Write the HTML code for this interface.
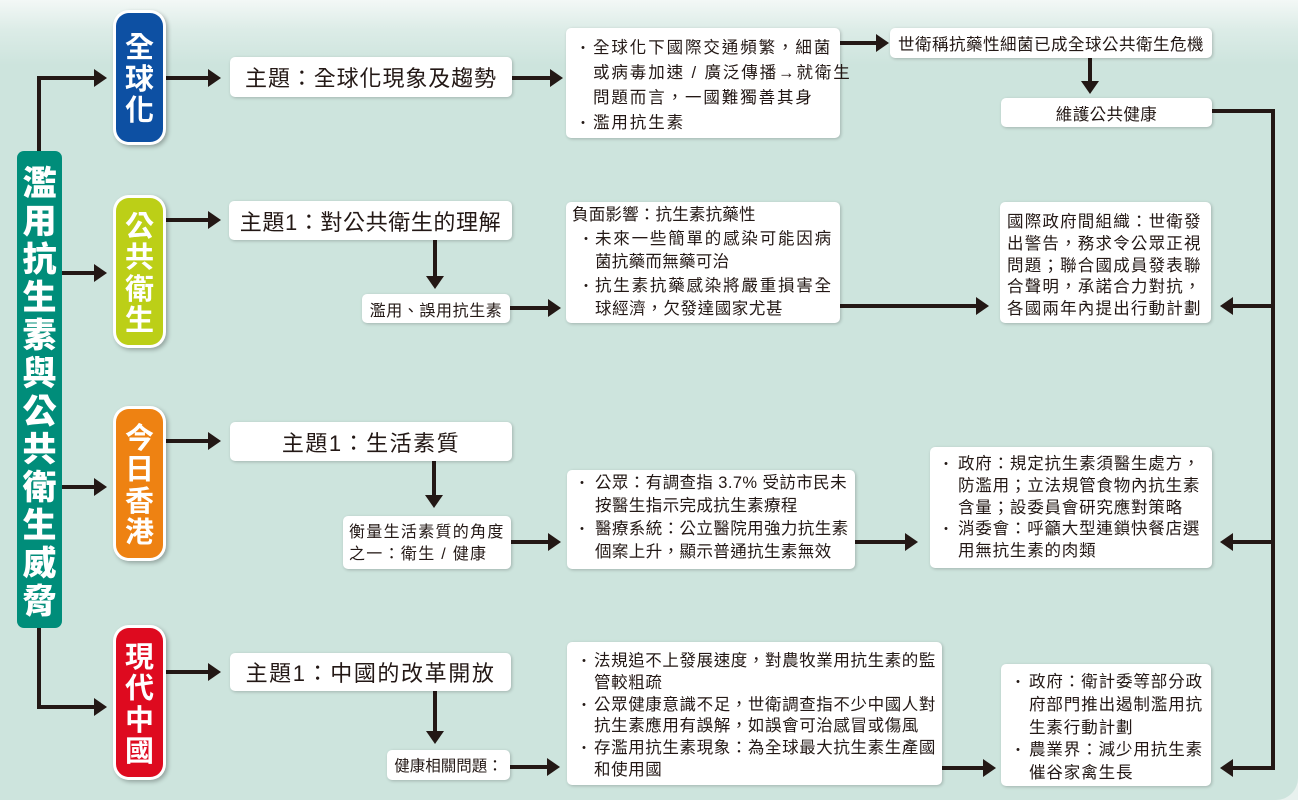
<!DOCTYPE html>
<html>
<head>
<meta charset="utf-8">
<style>
  html,body{margin:0;padding:0;}
  body{width:1298px;height:800px;overflow:hidden;background:#e8f1ee;position:relative;
    font-family:"Liberation Sans","Noto Sans CJK TC",sans-serif;color:#231815;}
  #panel{position:absolute;left:0;top:0;width:1298px;height:800px;
    background:linear-gradient(to bottom,#f3f8f6 0px,#dcece7 30px,#cde4dd 65px,#cde4dd 100%);
    border-bottom-right-radius:22px;}
  svg{position:absolute;left:0;top:0;}
  .box{position:absolute;background:#fff;border-radius:5px;box-shadow:1px 1px 3px rgba(0,0,0,.22);
    font-size:16.5px;white-space:nowrap;box-sizing:border-box;}
  .ln{position:relative;height:auto;}
  .b{position:absolute;font-size:14px;}
  .center{display:flex;align-items:center;justify-content:center;}
  .theme{font-size:22px;}
  .cat{position:absolute;background:#fff;border-radius:16px;box-shadow:2px 2px 4px rgba(0,0,0,.28);}
  .cat .in{position:absolute;left:3px;top:3px;right:3px;bottom:3px;border-radius:13px;
    display:flex;flex-direction:column;align-items:center;justify-content:center;
    color:#fff;font-weight:bold;font-size:29px;line-height:31.5px;
    font-family:"Noto Sans CJK TC","Noto Sans CJK SC",sans-serif;}
  #banner{position:absolute;left:17px;top:151px;width:45px;height:477px;background:#008d7a;border-radius:7px;
    display:flex;flex-direction:column;align-items:center;justify-content:center;
    color:#fff;font-weight:900;font-size:34px;line-height:38px;
    font-family:"Noto Sans CJK TC","Noto Sans CJK SC",sans-serif;}
</style>
</head>
<body>
<div id="panel"></div>

<svg width="1298" height="800" viewBox="0 0 1298 800">
  <g fill="none" stroke="#231815" stroke-width="4" stroke-linejoin="miter">
    <path d="M39,151 V78 H96"/>
    <path d="M62,273 H96"/>
    <path d="M62,487 H96"/>
    <path d="M39,628 V707 H96"/>
    <path d="M166,78 H210"/>
    <path d="M166,220 H210"/>
    <path d="M166,441 H210"/>
    <path d="M166,672 H210"/>
    <path d="M512,78 H552"/>
    <path d="M840,43 H878"/>
    <path d="M1090,58 V83"/>
    <path d="M1212,111 H1273 V768 H1232"/>
    <path d="M1273,306 H1232"/>
    <path d="M1273,542 H1232"/>
    <path d="M435,240 V278"/>
    <path d="M510,308 H550"/>
    <path d="M840,306 H978"/>
    <path d="M434,461 V497"/>
    <path d="M511,542 H550"/>
    <path d="M855,542 H907"/>
    <path d="M435,691 V733"/>
    <path d="M510,767 H549"/>
    <path d="M942,768 H985"/>
  </g>
  <g fill="#231815">
    <polygon points="94,69 107,78 94,87"/>
    <polygon points="94,264 107,273 94,282"/>
    <polygon points="94,478 107,487 94,496"/>
    <polygon points="94,698 107,707 94,716"/>
    <polygon points="208,69 221,78 208,87"/>
    <polygon points="208,211 221,220 208,229"/>
    <polygon points="208,432 221,441 208,450"/>
    <polygon points="208,663 221,672 208,681"/>
    <polygon points="550,69 563,78 550,87"/>
    <polygon points="876,34 889,43 876,52"/>
    <polygon points="548,299 561,308 548,317"/>
    <polygon points="976,297 989,306 976,315"/>
    <polygon points="548,533 561,542 548,551"/>
    <polygon points="905,533 918,542 905,551"/>
    <polygon points="547,758 560,767 547,776"/>
    <polygon points="983,759 996,768 983,777"/>
    <polygon points="1233,297 1220,306 1233,315"/>
    <polygon points="1233,533 1220,542 1233,551"/>
    <polygon points="1233,759 1220,768 1233,777"/>
    <polygon points="1081,81 1090,94 1099,81"/>
    <polygon points="426,276 435,289 444,276"/>
    <polygon points="425,495 434,508 443,495"/>
    <polygon points="426,731 435,744 444,731"/>
  </g>
</svg>

<div id="banner"><div>濫</div><div>用</div><div>抗</div><div>生</div><div>素</div><div>與</div><div>公</div><div>共</div><div>衛</div><div>生</div><div>威</div><div>脅</div></div>

<div class="cat" style="left:113px;top:10px;width:53px;height:135px;"><div class="in" style="background:#0d50a3;"><div>全</div><div>球</div><div>化</div></div></div>
<div class="cat" style="left:113px;top:195px;width:53px;height:153px;"><div class="in" style="background:#bccf17;"><div>公</div><div>共</div><div>衛</div><div>生</div></div></div>
<div class="cat" style="left:113px;top:406px;width:53px;height:155px;"><div class="in" style="background:#ee8212;"><div>今</div><div>日</div><div>香</div><div>港</div></div></div>
<div class="cat" style="left:113px;top:625px;width:53px;height:155px;"><div class="in" style="background:#de0a1f;"><div>現</div><div>代</div><div>中</div><div>國</div></div></div>

<div class="box center theme" style="left:230px;top:57px;width:282px;height:40px;letter-spacing:0.9px;">主題：全球化現象及趨勢</div>

<div class="box" style="left:566px;top:28px;width:274px;height:110px;padding-top:8px;line-height:25px;letter-spacing:1.9px;">
  <div class="ln" style="padding-left:27px;"><span class="b" style="left:10px;">・</span>全球化下國際交通頻繁，細菌</div>
  <div class="ln" style="padding-left:27px;">或病毒加速 / 廣泛傳播→就衛生</div>
  <div class="ln" style="padding-left:27px;">問題而言，一國難獨善其身</div>
  <div class="ln" style="padding-left:27px;"><span class="b" style="left:10px;">・</span>濫用抗生素</div>
</div>

<div class="box center" style="left:890px;top:28px;width:322px;height:30px;letter-spacing:0.5px;">世衛稱抗藥性細菌已成全球公共衛生危機</div>
<div class="box center" style="left:1001px;top:98px;width:211px;height:29px;letter-spacing:0.4px;">維護公共健康</div>

<div class="box center theme" style="left:229px;top:201px;width:283px;height:39px;letter-spacing:0.6px;">主題1：對公共衛生的理解</div>
<div class="box center" style="left:362px;top:294px;width:148px;height:29px;font-size:16px;letter-spacing:0.6px;">濫用、誤用抗生素</div>

<div class="box" style="left:566px;top:202px;width:274px;height:121px;padding-top:2px;line-height:23.5px;">
  <div class="ln" style="padding-left:6px;letter-spacing:0.2px;">負面影響：抗生素抗藥性</div>
  <div class="ln" style="padding-left:29px;letter-spacing:1.8px;"><span class="b" style="left:13px;">・</span>未來一些簡單的感染可能因病</div>
  <div class="ln" style="padding-left:29px;letter-spacing:0.3px;">菌抗藥而無藥可治</div>
  <div class="ln" style="padding-left:29px;letter-spacing:1.8px;"><span class="b" style="left:13px;">・</span>抗生素抗藥感染將嚴重損害全</div>
  <div class="ln" style="padding-left:29px;letter-spacing:0.6px;">球經濟，欠發達國家尤甚</div>
</div>

<div class="box" style="left:1000px;top:202px;width:211px;height:121px;padding-top:10px;padding-left:7px;line-height:21.75px;letter-spacing:1.2px;">
  <div class="ln">國際政府間組織：世衛發</div>
  <div class="ln">出警告，務求令公眾正視</div>
  <div class="ln">問題；聯合國成員發表聯</div>
  <div class="ln">合聲明，承諾合力對抗，</div>
  <div class="ln">各國兩年內提出行動計劃</div>
</div>

<div class="box center theme" style="left:230px;top:422px;width:282px;height:39px;letter-spacing:1.5px;">主題1：生活素質</div>

<div class="box" style="left:343px;top:516px;width:168px;height:53px;padding-top:6px;padding-left:6px;line-height:22px;font-size:16px;letter-spacing:1.3px;">
  <div class="ln">衡量生活素質的角度</div>
  <div class="ln">之一：衛生 / 健康</div>
</div>

<div class="box" style="left:567px;top:470px;width:288px;height:99px;padding-top:2px;line-height:23px;letter-spacing:0.4px;">
  <div class="ln" style="padding-left:28px;"><span class="b" style="left:8px;">・</span>公眾：有調查指 3.7% 受訪市民未</div>
  <div class="ln" style="padding-left:28px;">按醫生指示完成抗生素療程</div>
  <div class="ln" style="padding-left:28px;"><span class="b" style="left:8px;">・</span>醫療系統：公立醫院用強力抗生素</div>
  <div class="ln" style="padding-left:28px;">個案上升，顯示普通抗生素無效</div>
</div>

<div class="box" style="left:930px;top:447px;width:282px;height:121px;padding-top:7px;line-height:21.75px;letter-spacing:0.8px;">
  <div class="ln" style="padding-left:28px;"><span class="b" style="left:9px;">・</span>政府：規定抗生素須醫生處方，</div>
  <div class="ln" style="padding-left:28px;">防濫用；立法規管食物內抗生素</div>
  <div class="ln" style="padding-left:28px;">含量；設委員會研究應對策略</div>
  <div class="ln" style="padding-left:28px;"><span class="b" style="left:9px;">・</span>消委會：呼籲大型連鎖快餐店選</div>
  <div class="ln" style="padding-left:28px;">用無抗生素的肉類</div>
</div>

<div class="box center theme" style="left:230px;top:653px;width:281px;height:38px;letter-spacing:1.6px;">主題1：中國的改革開放</div>
<div class="box center" style="left:387px;top:750px;width:123px;height:30px;font-size:15.5px;">健康相關問題：</div>

<div class="box" style="left:567px;top:642px;width:375px;height:143px;padding-top:9px;line-height:21.8px;letter-spacing:0.6px;">
  <div class="ln" style="padding-left:27px;"><span class="b" style="left:10px;">・</span>法規追不上發展速度，對農牧業用抗生素的監</div>
  <div class="ln" style="padding-left:27px;">管較粗疏</div>
  <div class="ln" style="padding-left:27px;"><span class="b" style="left:10px;">・</span>公眾健康意識不足，世衛調查指不少中國人對</div>
  <div class="ln" style="padding-left:27px;">抗生素應用有誤解，如誤會可治感冒或傷風</div>
  <div class="ln" style="padding-left:27px;"><span class="b" style="left:10px;">・</span>存濫用抗生素現象：為全球最大抗生素生產國</div>
  <div class="ln" style="padding-left:27px;">和使用國</div>
</div>

<div class="box" style="left:1001px;top:664px;width:210px;height:122px;padding-top:7px;line-height:22.75px;letter-spacing:0.9px;">
  <div class="ln" style="padding-left:28px;"><span class="b" style="left:10px;">・</span>政府：衛計委等部分政</div>
  <div class="ln" style="padding-left:28px;">府部門推出遏制濫用抗</div>
  <div class="ln" style="padding-left:28px;">生素行動計劃</div>
  <div class="ln" style="padding-left:28px;"><span class="b" style="left:10px;">・</span>農業界：減少用抗生素</div>
  <div class="ln" style="padding-left:28px;">催谷家禽生長</div>
</div>

</body>
</html>
